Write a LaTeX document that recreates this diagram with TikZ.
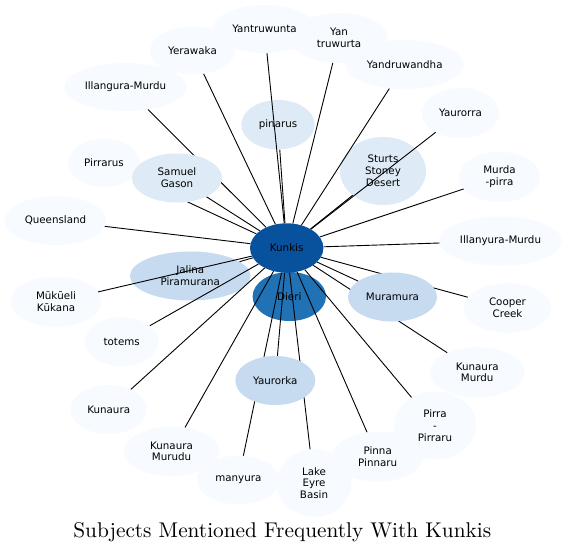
\documentclass[tikz,border=0pt]{standalone}
\usepackage{fontspec}
\newfontfamily\nodefont{DejaVu Sans}
\newfontfamily\titlefont{lmroman10-regular}[Extension=.otf]
\usetikzlibrary{shapes.geometric}
\pgfdeclarelayer{paper}
\pgfdeclarelayer{bg}
\pgfdeclarelayer{edgelayer}
\pgfsetlayers{paper,bg,edgelayer,main}
\definecolor{bA}{HTML}{F7FBFF}
\definecolor{bB}{HTML}{DEEBF7}
\definecolor{bC}{HTML}{C6DBEF}
\definecolor{bG}{HTML}{2171B5}
\definecolor{bH}{HTML}{08519C}
\tikzset{
  ell/.style={ellipse, draw=none, inner sep=0pt, align=center, text=black,
    font=\nodefont\fontsize{10.3bp}{11.8bp}\selectfont},
  wh/.style 2 args={minimum width=#1bp, minimum height=#2bp},
  lightnode/.style={ell, fill=bA},
  palenode/.style={ell, fill=bB},
  midnode/.style={ell, fill=bC},
  link/.style={draw=black, line width=0.9bp},
  titletext/.style={font=\titlefont\fontsize{21.3bp}{25bp}\selectfont, anchor=base, inner sep=0pt}
}
\begin{document}
\begin{tikzpicture}[x=1bp, y=-1bp]
\useasboundingbox (0,0) rectangle (566,552);
\begin{pgfonlayer}{paper}
\fill[white] (0,0) rectangle (566,552);
\end{pgfonlayer}
\begin{pgfonlayer}{bg}
\node[lightnode, wh={97}{50}] (yantruwurta) at (339,38) {Yan\\truwurta};
\node[lightnode, wh={85}{48}] (yerawaka) at (192.5,50.5) {Yerawaka};
\node[lightnode, wh={103}{48}] (yantruwunta) at (264.5,29) {Yantruwunta};
\node[lightnode, wh={118}{49}] (yandruwandha) at (404.7,64.7) {Yandruwandha};
\node[lightnode, wh={122}{48}] (illangura) at (125.5,87) {Illangura-Murdu};
\node[lightnode, wh={77}{50}] (yaurorra) at (460.5,113) {Yaurorra};
\node[lightnode, wh={72}{48}] (pirrarus) at (104,163) {Pirrarus};
\node[lightnode, wh={81}{50}] (murdapirra) at (499.5,177) {Murda\\-pirra};
\node[lightnode, wh={101}{49}] (queensland) at (55.5,220.5) {Queensland};
\node[lightnode, wh={122}{49}] (illanyura) at (500.5,241) {Illanyura-Murdu};
\node[lightnode, wh={91}{50}] (mukueli) at (56,301.7) {Mūkūeli\\Kūkana};
\node[lightnode, wh={88}{49.4}] (cooper) at (507.5,308) {Cooper\\Creek};
\node[lightnode, wh={73.4}{49}] (totems) at (121.7,341.7) {totems};
\node[lightnode, wh={95}{50}] (kmurdu) at (477.2,372.3) {Kunaura\\Murdu};
\node[lightnode, wh={76}{49}] (kunaura) at (108.7,409.5) {Kunaura};
\node[lightnode, wh={82}{68}] (pirrapirraru) at (435,425.5) {Pirra\\-\\Pirraru};
\node[lightnode, wh={95}{49.4}] (kmurudu) at (171.5,451.3) {Kunaura\\Murudu};
\node[lightnode, wh={90.6}{50}] (pinna) at (377.7,456.7) {Pinna\\Pinnaru};
\node[lightnode, wh={82}{48.6}] (manyura) at (238.3,480) {manyura};
\node[lightnode, wh={74.6}{67.4}] (lakeeyre) at (314,483) {Lake\\Eyre\\Basin};
\node[palenode, wh={73.4}{49.4}] (pinarus) at (278,124.7) {pinarus};
\node[palenode, wh={86}{68}] (sturts) at (383,171) {Sturts\\Stoney\\Desert};
\node[midnode, wh={120.6}{49}] (jalina) at (190.3,276) {Jalina\\Piramurana};
\node[ell, fill=bG, wh={73.4}{49}] (dieri) at (289.3,296.5) {Dieri};
\end{pgfonlayer}
\node[palenode, wh={90}{49}] (gason) at (177,178) {Samuel\\Gason};
\node[midnode, wh={89}{49}] (muramura) at (392.5,297) {Muramura};
\node[midnode, wh={80}{49}] (yaurorka) at (275.3,380.5) {Yaurorka};
\node[ell, fill=bH, wh={73.4}{49.4}] (kunkis) at (286.7,248) {Kunkis};
\begin{pgfonlayer}{edgelayer}
\foreach \t in {yantruwunta,yerawaka,yantruwurta,yandruwandha,illangura,yaurorra,
  pirrarus,murdapirra,queensland,illanyura,mukueli,cooper,totems,kmurdu,kunaura,
  pirrapirraru,kmurudu,pinna,manyura,lakeeyre,pinarus,sturts,jalina,dieri,
  gason,muramura,yaurorka}
  \draw[link] (kunkis) -- (\t);
\end{pgfonlayer}
\node[titletext] (title) at (282.3,537.3) {Subjects Mentioned Frequently With Kunkis};
\end{tikzpicture}
\end{document}
